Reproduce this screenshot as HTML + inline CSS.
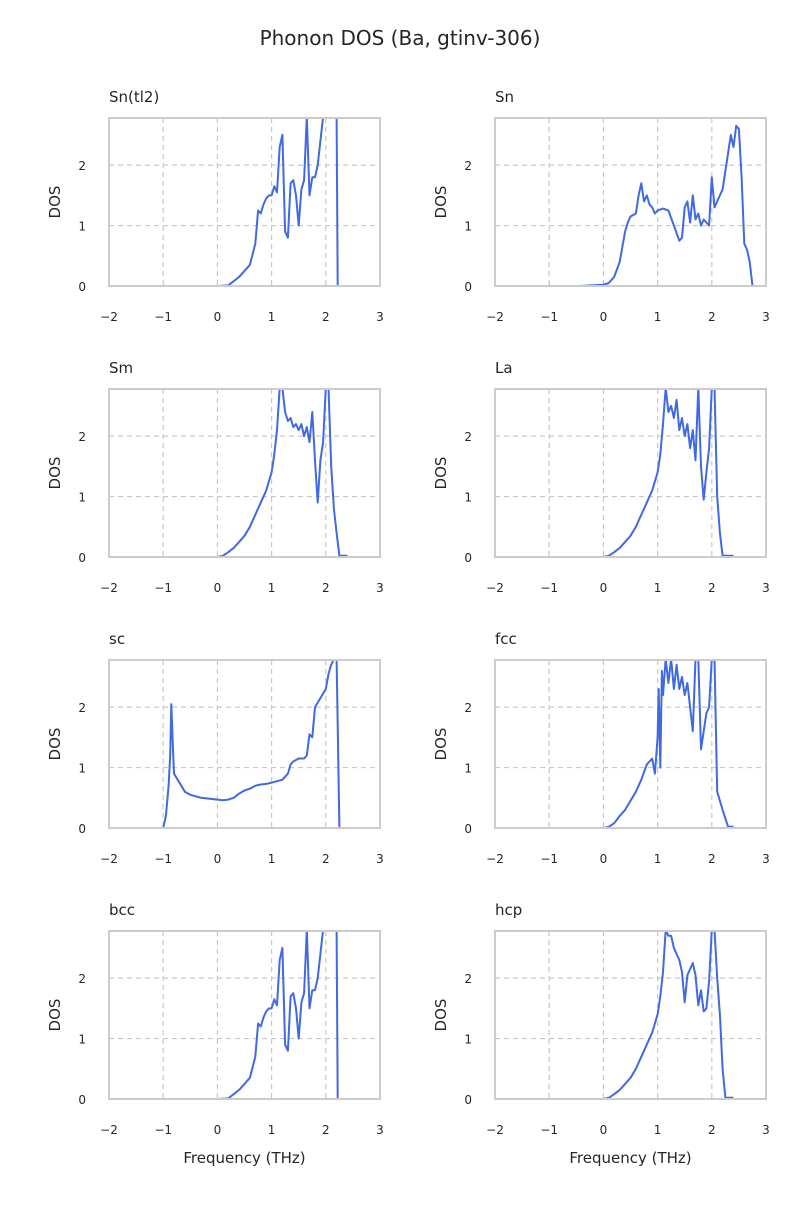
<!DOCTYPE html>
<html><head><meta charset="utf-8"><style>
body{margin:0;background:#fff;font-family:"Liberation Sans","DejaVu Sans",sans-serif;}
svg text{fill:#262626;font-family:"DejaVu Sans","Liberation Sans",sans-serif;}
</style></head><body>
<svg id="fig" width="800" height="1200" xmlns="http://www.w3.org/2000/svg">
<rect width="800" height="1200" fill="#fff"/>
<text x="400" y="45" text-anchor="middle" font-size="20">Phonon DOS (Ba, gtinv-306)</text>
</svg>
<script>
const panelNames=["Sn(tl2)","Sn","Sm","La","sc","fcc","bcc","hcp"];
const xTicks=[-2,-1,0,1,2,3];
const yTicks=[0,1,2];
const freqSnTl2=[0,0.2,0.3,0.4,0.5,0.6,0.7,0.75,0.8,0.85,0.9,0.95,1.0,1.05,1.1,1.15,1.2,1.25,1.3,1.35,1.4,1.45,1.5,1.55,1.6,1.65,1.7,1.75,1.8,1.85,1.9,1.95,2.0,2.1,2.2,2.22,2.25,2.4];
const dosSnTl2=[0,0.01,0.08,0.15,0.25,0.35,0.7,1.25,1.2,1.35,1.45,1.5,1.5,1.65,1.55,2.3,2.5,0.9,0.8,1.7,1.75,1.5,1.0,1.6,1.75,2.8,1.5,1.8,1.8,2.0,2.4,2.8,2.8,2.8,2.8,0,0,0];
const freqSn=[-0.45,0,0.1,0.2,0.3,0.4,0.45,0.5,0.6,0.65,0.7,0.75,0.8,0.85,0.9,0.95,1.0,1.1,1.2,1.3,1.4,1.45,1.5,1.55,1.6,1.65,1.7,1.75,1.8,1.85,1.9,1.95,2.0,2.05,2.1,2.2,2.3,2.35,2.4,2.45,2.5,2.55,2.6,2.65,2.7,2.75,3.0];
const dosSn=[0,0.02,0.05,0.15,0.4,0.9,1.05,1.15,1.2,1.5,1.7,1.4,1.5,1.35,1.3,1.2,1.25,1.28,1.25,1.0,0.75,0.8,1.3,1.4,1.05,1.5,1.1,1.2,1.0,1.1,1.05,1.0,1.8,1.3,1.4,1.6,2.2,2.5,2.3,2.65,2.6,1.8,0.7,0.6,0.4,0,0];
const freqSm=[0,0.1,0.2,0.3,0.4,0.5,0.6,0.7,0.8,0.9,1.0,1.05,1.1,1.15,1.2,1.25,1.3,1.35,1.4,1.45,1.5,1.55,1.6,1.65,1.7,1.75,1.8,1.85,1.9,1.95,2.0,2.05,2.1,2.15,2.2,2.25,2.4];
const dosSm=[0,0.02,0.08,0.15,0.25,0.35,0.5,0.7,0.9,1.1,1.4,1.7,2.1,2.8,2.8,2.4,2.25,2.3,2.15,2.2,2.1,2.2,2.0,2.15,1.9,2.4,1.6,0.9,1.6,1.9,2.8,2.8,1.5,0.8,0.4,0.02,0.02];
const freqLa=[0,0.1,0.2,0.3,0.4,0.5,0.6,0.7,0.8,0.9,1.0,1.05,1.1,1.15,1.2,1.25,1.3,1.35,1.4,1.45,1.5,1.55,1.6,1.65,1.7,1.75,1.8,1.85,1.9,1.95,2.0,2.05,2.1,2.15,2.2,2.25,2.4];
const dosLa=[0,0.02,0.08,0.15,0.25,0.35,0.5,0.7,0.9,1.1,1.4,1.7,2.2,2.8,2.4,2.5,2.3,2.6,2.1,2.3,2.0,2.2,1.8,2.1,1.6,2.8,1.5,0.95,1.4,1.8,2.8,2.8,1.0,0.4,0.02,0.02,0.02];
const freqSc=[-1.3,-1.0,-0.95,-0.9,-0.87,-0.85,-0.82,-0.8,-0.7,-0.6,-0.5,-0.3,-0.1,0,0.1,0.2,0.3,0.4,0.5,0.6,0.7,0.8,0.9,1.0,1.2,1.3,1.35,1.4,1.5,1.6,1.65,1.7,1.75,1.8,1.9,2.0,2.05,2.1,2.15,2.2,2.25,2.5];
const dosSc=[0,0,0.2,0.7,1.2,2.05,1.3,0.9,0.75,0.6,0.55,0.5,0.48,0.47,0.46,0.47,0.5,0.57,0.62,0.65,0.7,0.72,0.73,0.75,0.8,0.9,1.05,1.1,1.15,1.15,1.2,1.55,1.5,2.0,2.15,2.3,2.55,2.7,2.8,2.8,0,0];
const freqFcc=[0,0.1,0.2,0.3,0.4,0.5,0.6,0.7,0.8,0.85,0.9,0.95,1.0,1.02,1.05,1.08,1.1,1.15,1.2,1.25,1.3,1.35,1.4,1.45,1.5,1.55,1.6,1.65,1.7,1.75,1.8,1.85,1.9,1.95,2.0,2.05,2.1,2.2,2.3,2.4];
const dosFcc=[0,0.02,0.08,0.2,0.3,0.45,0.6,0.8,1.05,1.1,1.15,0.9,1.5,2.3,1.0,2.6,2.2,2.8,2.4,2.8,2.3,2.7,2.3,2.5,2.2,2.4,2.0,1.6,2.8,2.8,1.3,1.6,1.9,2.0,2.8,2.8,0.6,0.3,0.02,0.02];
const freqBcc=freqSnTl2.slice();
const dosBcc=dosSnTl2.slice();
const freqHcp=[0,0.1,0.2,0.3,0.4,0.5,0.6,0.7,0.8,0.9,1.0,1.05,1.1,1.15,1.2,1.25,1.3,1.35,1.4,1.45,1.5,1.55,1.6,1.65,1.7,1.75,1.8,1.85,1.9,1.95,2.0,2.05,2.1,2.15,2.2,2.25,2.4];
const dosHcp=[0,0.02,0.08,0.15,0.25,0.35,0.5,0.7,0.9,1.1,1.4,1.7,2.1,2.8,2.7,2.7,2.5,2.4,2.3,2.1,1.6,2.05,2.15,2.25,2.05,1.55,1.8,1.45,1.5,1.95,2.8,2.8,2.0,1.4,0.5,0.02,0.02];
const allFreq=[freqSnTl2,freqSn,freqSm,freqLa,freqSc,freqFcc,freqBcc,freqHcp];
const allDos=[dosSnTl2,dosSn,dosSm,dosLa,dosSc,dosFcc,dosBcc,dosHcp];

const NS="http://www.w3.org/2000/svg";
const svg=document.getElementById('fig');
function mk(tag,attrs,parent){const e=document.createElementNS(NS,tag);for(const k in attrs)e.setAttribute(k,attrs[k]);(parent||svg).appendChild(e);return e;}
const colX=[109,495], rowY=[118,389,660,931], W=271, H=168;
const xMin=-2,xMax=3,yMin=0,yMax=2.78;
panelNames.forEach((name,i)=>{
  const L=colX[i%2], T=rowY[Math.floor(i/2)];
  const sx=v=>L+(v-xMin)/(xMax-xMin)*W;
  const sy=v=>T+H-(v-yMin)/(yMax-yMin)*H;
  const g=mk('g',{});
  
  
  const cp=mk('clipPath',{id:'cp'+i},g);
  mk('rect',{x:L,y:T,width:W,height:H},cp);
  xTicks.forEach(t=>{
    const l=mk('line',{x1:sx(t),x2:sx(t),y1:T,y2:T+H,stroke:'#c8c8c8','stroke-dasharray':'5,4','stroke-width':1.2},g);
    
    
    const tx=mk('text',{x:sx(t),y:T+H+35,'text-anchor':'middle','font-size':12},g);
    
    
    tx.textContent=(t<0?'\u2212'+Math.abs(t):String(t));
  });
  yTicks.forEach(t=>{
    const l=mk('line',{x1:L,x2:L+W,y1:sy(t),y2:sy(t),stroke:'#c8c8c8','stroke-dasharray':'5,4','stroke-width':1.2},g);
    
    
    const tx=mk('text',{x:L-23,y:sy(t)+5,'text-anchor':'end','font-size':12},g);
    
    
    tx.textContent=String(t);
  });
  const fr=allFreq[i], ds=allDos[i];
  const d=fr.map((f,j)=>(j?'L':'M')+sx(f).toFixed(1)+','+sy(ds[j]).toFixed(1)).join(' ');
  const p=mk('path',{d:d,fill:'none',stroke:'#4169e1','stroke-width':2,'clip-path':'url(#cp'+i+')','stroke-linejoin':'round'},g);
  
  
  const fr2=mk('rect',{x:L,y:T,width:W,height:H,fill:'none',stroke:'#cccccc','stroke-width':2},g);
  
  
  const tt=mk('text',{x:L,y:T-16,'font-size':15},g);
  
  
  tt.textContent=name;
  const yl=mk('text',{x:0,y:0,'text-anchor':'middle','font-size':15,transform:`translate(${L-49},${T+H/2}) rotate(-90)`},g);
  
  
  yl.textContent='DOS';
  if(i>=6){
    const xl=mk('text',{x:L+W/2,y:T+H+64,'text-anchor':'middle','font-size':15},g);
    
    
    xl.textContent='Frequency (THz)';
  }
});
</script>
</body></html>
